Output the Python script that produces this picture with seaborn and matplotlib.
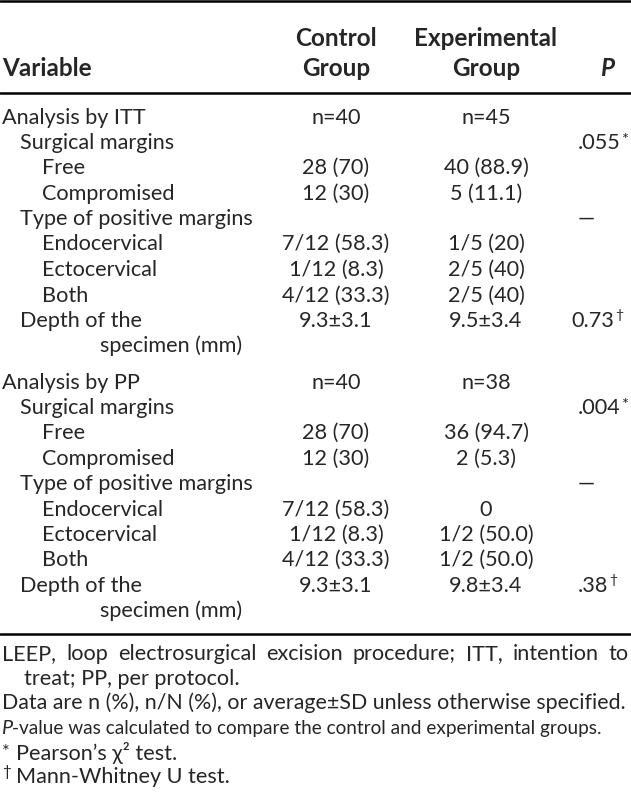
import matplotlib
matplotlib.use("Agg")
import matplotlib.pyplot as plt
import seaborn as sns

# table content
variables = [
    "Analysis by ITT", "Surgical margins", "Free", "Compromised",
    "Type of positive margins", "Endocervical", "Ectocervical", "Both",
    "Depth of the", "specimen (mm)",
    "Analysis by PP", "Surgical margins", "Free", "Compromised",
    "Type of positive margins", "Endocervical", "Ectocervical", "Both",
    "Depth of the", "specimen (mm)",
]
levels = [0, 1, 2, 2, 1, 2, 2, 2, 1, 3, 0, 1, 2, 2, 1, 2, 2, 2, 1, 3]
control = ["n=40", "", "28 (70)", "12 (30)", "", "7/12 (58.3)", "1/12 (8.3)",
           "4/12 (33.3)", "9.3±3.1", "",
           "n=40", "", "28 (70)", "12 (30)", "", "7/12 (58.3)", "1/12 (8.3)",
           "4/12 (33.3)", "9.3±3.1", ""]
experimental = ["n=45", "", "40 (88.9)", "5 (11.1)", "", "1/5 (20)", "2/5 (40)",
                "2/5 (40)", "9.5±3.4", "",
                "n=38", "", "36 (94.7)", "2 (5.3)", "", "0", "1/2 (50.0)",
                "1/2 (50.0)", "9.8±3.4", ""]
p_values = ["", ".055", "", "", "—", "", "", "", "0.73", "",
            "", ".004", "", "", "—", "", "", "", ".38", ""]
p_marks = ["", "*", "", "", "", "", "", "", "†", "",
           "", "*", "", "", "", "", "", "", "†", ""]
footnotes = [
    "LEEP, loop electrosurgical excision procedure; ITT, intention to",
    "treat; PP, per protocol.",
    "Data are n (%), n/N (%), or average±SD unless otherwise specified.",
    "P-value was calculated to compare the control and experimental groups.",
    "Pearson’s χ² test.",
    "Mann-Whitney U test.",
]

sns.set_theme(style="white")
plt.rcParams['font.family'] = ['Lato', 'DejaVu Sans']

fig = plt.figure(figsize=(6.31, 8.05), dpi=100)
ax = fig.add_axes([0, 0, 1, 1])
ax.set_xlim(0, 631)
ax.set_ylim(805, 0)
ax.axis("off")

fs = 15.6
fh = 17.5
indent = {0: 2, 1: 20, 2: 42, 3: 100}
x_ctrl, x_exp, x_p = 336, 486, 578

# rules
ax.plot([0, 631], [1, 1], color="black", lw=1.8)
ax.plot([0, 631], [93, 93], color="black", lw=1.8)
ax.plot([0, 631], [634, 634], color="black", lw=1.8)

# header
ax.text(2, 68, "Variable", fontsize=fh, fontweight="bold", va="center")
ax.text(x_ctrl, 38, "Control", fontsize=fh, fontweight="bold", va="center", ha="center")
ax.text(x_ctrl, 68, "Group", fontsize=fh, fontweight="bold", va="center", ha="center")
ax.text(x_exp, 38, "Experimental", fontsize=fh, fontweight="bold", va="center", ha="center")
ax.text(x_exp, 68, "Group", fontsize=fh, fontweight="bold", va="center", ha="center")
ax.text(607, 68, "P", fontsize=fh, fontweight="bold", fontstyle="italic", va="center", ha="center")

# body rows
y_rows = [118, 143, 168, 194, 219, 244, 270, 296, 321, 346,
          383, 408, 433, 459, 484, 510, 535, 560, 586, 611]
for i, y in enumerate(y_rows):
    ax.text(indent[levels[i]], y, variables[i], fontsize=fs, va="center")
    ax.text(x_ctrl, y, control[i], fontsize=fs, va="center", ha="center")
    ax.text(x_exp, y, experimental[i], fontsize=fs, va="center", ha="center")
    if p_values[i]:
        t = ax.text(x_p, y, p_values[i], fontsize=fs, va="center", ha="left")
        if p_values[i] == "0.73":
            t.set_x(x_p - 7)
        if p_marks[i]:
            fig.canvas.draw()
            bb = t.get_window_extent()
            xe = ax.transData.inverted().transform((bb.x1, 0))[0]
            if p_marks[i] == "*":
                ax.text(xe + 1, y - 3, "*", fontsize=fs * 0.75, va="center", ha="left")
            else:
                ax.text(xe + 1, y - 6, "†", fontsize=fs * 0.65, va="center", ha="left")

# footnotes
fig.canvas.draw()
renderer = fig.canvas.get_renderer()
words = footnotes[0].split(" ")
objs = [ax.text(0, 654, w, fontsize=fs, va="center") for w in words]
widths = []
inv = ax.transData.inverted()
for o in objs:
    bb = o.get_window_extent(renderer=renderer)
    widths.append(inv.transform((bb.x1, 0))[0] - inv.transform((bb.x0, 0))[0])
gap = (629 - 2 - sum(widths)) / (len(words) - 1)
x = 2
for o, w in zip(objs, widths):
    o.set_x(x)
    x += w + gap

ax.text(24, 679, footnotes[1], fontsize=fs, va="center")
ax.text(2, 703, footnotes[2], fontsize=fs * 0.985, va="center")
ax.text(1, 728, "P", fontsize=fs * 0.92, fontstyle="italic", va="center")
ax.text(12.5, 728, footnotes[3][1:], fontsize=fs * 0.88, va="center")
ax.text(2, 752, "*", fontsize=fs * 0.85, va="center")
ax.text(16, 753, footnotes[4], fontsize=fs, va="center")
ax.text(2, 772, "†", fontsize=fs * 0.7, va="center")
ax.text(16, 777, footnotes[5], fontsize=fs, va="center")

fig.savefig("out.png", dpi=100)
